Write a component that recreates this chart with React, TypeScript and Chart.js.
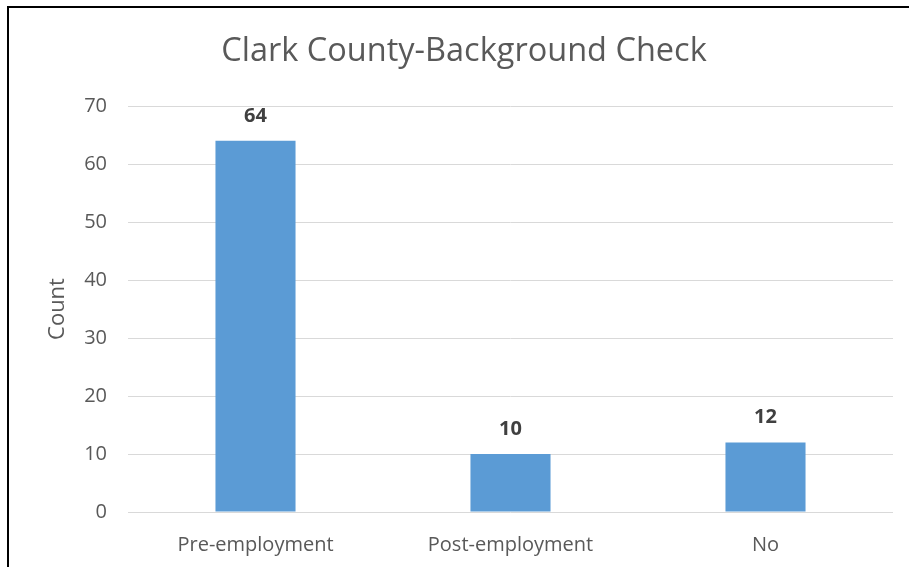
import React, { useEffect, useRef } from "react";
import { Chart, registerables } from "chart.js";

Chart.register(...registerables);

const categories = ["Pre-employment", "Post-employment", "No"];
const counts = [64, 10, 12];
const yTicks = [0, 10, 20, 30, 40, 50, 60, 70];
const chartTitle = "Clark County-Background Check";
const yAxisTitle = "Count";

const FONT = "'Open Sans', sans-serif";
const TEXT = "#595959";

const valueLabels = {
  id: "valueLabels",
  afterDatasetsDraw(chart: any) {
    const ctx = chart.ctx;
    const meta = chart.getDatasetMeta(0);
    ctx.save();
    ctx.font = `bold 20px ${FONT}`;
    ctx.fillStyle = "#404040";
    ctx.textAlign = "center";
    ctx.textBaseline = "middle";
    meta.data.forEach((bar: any, i: number) => {
      ctx.fillText(String(chart.data.datasets[0].data[i]), bar.x, bar.y - 25);
    });
    ctx.restore();
  },
};

const titlePlugin = {
  id: "centerTitle",
  afterDraw(chart: any) {
    const ctx = chart.ctx;
    ctx.save();
    ctx.font = `32.5px ${FONT}`;
    ctx.fillStyle = TEXT;
    ctx.textAlign = "center";
    ctx.textBaseline = "middle";
    ctx.fillText(chartTitle, 464, 52);
    ctx.restore();
  },
};

export default function App() {
  const ref = useRef<HTMLCanvasElement>(null);
  useEffect(() => {
    if (!ref.current) return;
    const chart = new Chart(ref.current, {
      type: "bar",
      data: {
        labels: categories,
        datasets: [
          {
            data: counts,
            backgroundColor: "#5B9BD5",
            borderWidth: 0,
            barPercentage: 0.314,
            categoryPercentage: 1,
          },
        ],
      },
      options: {
        animation: false,
        responsive: false,
        maintainAspectRatio: false,
        layout: { padding: { top: 106, right: 16, bottom: 0, left: 0 } },
        plugins: {
          legend: { display: false },
          tooltip: { enabled: false },
          title: { display: false },
        },
        scales: {
          x: {
            grid: { display: false },
            border: { display: false },
            ticks: {
              color: TEXT,
              font: { family: FONT, size: 20 },
              padding: 13,
            },
            afterFit(scale: any) {
              scale.height = 55;
            },
          },
          y: {
            min: 0,
            max: 70,
            afterBuildTicks(scale: any) {
              scale.ticks = yTicks.map((v) => ({ value: v }));
            },
            grid: { color: "#D9D9D9", lineWidth: 1, drawTicks: false },
            border: { display: false },
            ticks: {
              color: TEXT,
              font: { family: FONT, size: 20 },
              padding: 21,
            },
            title: {
              display: true,
              text: yAxisTitle,
              color: TEXT,
              font: { family: FONT, size: 22 },
              padding: { top: 45, bottom: 0 },
            },
            afterFit(scale: any) {
              scale.width = 128;
            },
          },
        },
      },
      plugins: [valueLabels, titlePlugin],
    });
    return () => chart.destroy();
  }, []);

  return (
    <div
      style={{
        position: "fixed",
        left: 0,
        top: 0,
        width: 909,
        height: 567,
        background: "#fff",
        overflow: "hidden",
      }}
    >
      <div
        style={{
          position: "absolute",
          left: 7,
          top: 6,
          width: 910,
          height: 600,
          borderLeft: "2px solid #000",
          borderTop: "2px solid #000",
        }}
      />
      <canvas
        ref={ref}
        width={909}
        height={567}
        style={{ position: "absolute", left: 0, top: 0, width: 909, height: 567 }}
      />
    </div>
  );
}
